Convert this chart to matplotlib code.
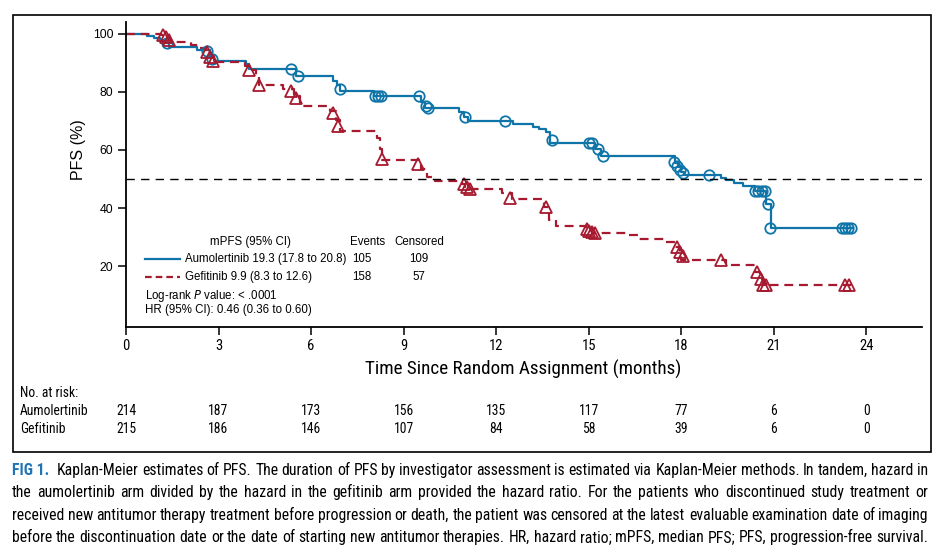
import matplotlib

matplotlib.use("Agg")
import matplotlib.pyplot as plt
import numpy as np
from matplotlib import font_manager
from matplotlib.lines import Line2D
from matplotlib.patches import Rectangle

# --- data -----------------------------------------------------------------------
# Kaplan-Meier step points (time of drop in months, PFS % after the drop)
aum_t = [0, 0.67, 0.9, 1.1, 1.25, 1.4, 2.3, 2.72, 2.85, 3.9, 4.0, 5.5, 6.7, 6.85,
         6.95, 8.05, 9.55, 9.7, 10.8, 10.95, 11.1, 12.55, 13.2, 13.4, 13.6, 13.75,
         15.2, 15.4, 17.8, 17.9, 18.0, 18.1, 19.3, 19.45, 19.7, 20.0, 20.4, 20.75, 20.9]
aum_s = [100, 99.3, 98.6, 97.8, 96.8, 95.4, 94.3, 92.0, 90.8, 89.5, 87.9, 85.4, 83.6,
         82.5, 80.2, 78.7, 76.5, 74.5, 73.2, 71.4, 70.0, 68.8, 67.9, 67.2, 66.3, 62.5,
         60.5, 58.0, 55.5, 54.0, 52.5, 51.4, 50.5, 49.5, 48.6, 47.7, 46.0, 41.4, 33.1]
aum_end = 23.55
aum_cens_t = [1.32, 2.62, 2.8, 5.36, 5.58, 6.92, 8.06, 8.17, 8.27, 9.51, 9.72, 9.78,
              11.0, 12.3, 13.8, 15.0, 15.1, 15.3, 15.45, 17.75, 17.85, 17.95, 18.05,
              18.9, 20.4, 20.5, 20.6, 20.7, 20.8, 20.88, 23.2, 23.3, 23.4, 23.5]
aum_cens_s = [96.8, 94.0, 91.2, 87.9, 85.4, 81.0, 78.7, 78.7, 78.7, 78.5, 75.0, 74.6,
              71.4, 70.0, 63.5, 62.5, 62.5, 60.5, 58.0, 56.0, 54.5, 53.0, 52.0, 51.4,
              46.0, 46.0, 46.0, 46.0, 41.4, 33.1, 33.1, 33.1, 33.1, 33.1]

gef_t = [0, 1.15, 1.3, 1.42, 2.1, 2.4, 2.6, 2.75, 2.85, 3.85, 4.0, 4.2, 4.3, 5.1,
         5.45, 5.65, 6.6, 6.8, 6.95, 8.15, 8.22, 8.3, 9.5, 9.55, 9.75, 10.0, 10.9,
         11.0, 11.15, 12.2, 12.5, 13.55, 13.7, 13.95, 14.9, 15.1, 16.3, 16.6, 17.5,
         17.8, 17.95, 18.0, 19.45, 20.4, 20.55, 20.65]
gef_s = [100, 99.5, 98.5, 97.2, 96.2, 95.2, 94.0, 92.5, 90.4, 89.0, 87.4, 85.0, 82.3,
         81.0, 78.5, 75.3, 73.5, 70.5, 66.7, 64.2, 60.5, 56.5, 55.0, 53.3, 50.7, 49.3,
         48.2, 47.3, 46.7, 45.3, 43.1, 40.5, 36.0, 33.7, 32.8, 31.4, 30.7, 29.3, 28.4,
         26.5, 24.5, 22.2, 20.2, 17.9, 15.6, 13.5]
gef_end = 23.5
gef_cens_t = [1.2, 1.3, 1.4, 2.62, 2.72, 2.82, 4.0, 4.3, 5.36, 5.52, 6.7, 6.87, 8.3,
              9.45, 10.95, 11.05, 11.15, 12.45, 13.62, 14.95, 15.02, 15.1, 15.2, 17.85,
              17.95, 18.05, 19.28, 20.46, 20.57, 20.65, 20.75, 23.3, 23.45]
gef_cens_s = [99.7, 99.0, 97.8, 93.8, 92.2, 90.6, 87.6, 82.5, 80.2, 78.0, 72.8, 68.2,
              56.8, 55.1, 48.2, 47.2, 46.7, 43.6, 40.4, 32.8, 32.0, 31.6, 31.4, 26.5,
              24.8, 23.4, 22.0, 17.9, 15.6, 13.5, 13.5, 13.5, 13.5]

x_ticks = [0, 3, 6, 9, 12, 15, 18, 21, 24]
y_ticks = [20, 40, 60, 80, 100]
risk_aum = [214, 187, 173, 156, 135, 117, 77, 6, 0]
risk_gef = [215, 186, 146, 107, 84, 58, 39, 6, 0]

legend_rows = [
    ("Aumolertinib 19.3 (17.8 to 20.8)", "105", "109"),
    ("Gefitinib 9.9 (8.3 to 12.6)", "158", "57"),
]
caption_lines = [
    "Kaplan-Meier estimates of PFS. The duration of PFS by investigator assessment is "
    "estimated via Kaplan-Meier methods. In tandem, hazard in",
    "the aumolertinib arm divided by the hazard in the gefitinib arm provided the hazard "
    "ratio. For the patients who discontinued study treatment or",
    "received new antitumor therapy treatment before progression or death, the patient was "
    "censored at the latest evaluable examination date of imaging",
    "before the discontinuation date or the date of starting new antitumor therapies. HR, "
    "hazard ratio; mPFS, median PFS; PFS, progression-free survival.",
]

BLUE = "#0f75a8"
RED = "#a6192e"
CAP_BLUE = "#1f73b7"

W, H = 943, 554
installed = {f.name for f in font_manager.fontManager.ttflist}
SANS = "Liberation Sans" if "Liberation Sans" in installed else "DejaVu Sans"
NARROW = SANS
for cand in ("Liberation Sans Narrow", "Arial Narrow", "Roboto Condensed",
             "Archivo Narrow", "PT Sans Narrow", "Pragati Narrow", "Open Sans Condensed",
             "IBM Plex Sans Condensed", "Fira Sans Condensed", "Encode Sans Condensed"):
    if cand in installed:
        NARROW = cand
        break
NARROW_FAM = [NARROW, SANS, "DejaVu Sans"]
plt.rcParams["font.family"] = [SANS, "DejaVu Sans"]


def fx(x):
    return x / W


def fy(y):
    return 1 - y / H


fig = plt.figure(figsize=(W / 100, H / 100), dpi=100)
ax = fig.add_axes([fx(126), fy(327), fx(922) - fx(126), fy(22) - fy(327)])

ax.step(np.append(aum_t, aum_end), np.append(aum_s, aum_s[-1]), where="post",
        color=BLUE, lw=1.6)
ax.step(np.append(gef_t, gef_end), np.append(gef_s, gef_s[-1]), where="post",
        color=RED, lw=1.6, dashes=(4, 2.6))
ax.plot(aum_cens_t, aum_cens_s, ls="none", marker="o", ms=7.5, mfc="none",
        mec=BLUE, mew=1.3)
ax.plot(gef_cens_t, gef_cens_s, ls="none", marker="^", ms=8, mfc="none",
        mec=RED, mew=1.3)
ax.axhline(50, color="black", lw=1.0, dashes=(6, 4.5))

ax.set_xlim(0, 25.8)
ax.set_ylim(-1, 104.1)
ax.set_xticks(x_ticks)
ax.set_yticks(y_ticks)
ax.set_xticklabels([str(v) for v in x_ticks], family=NARROW_FAM, fontsize=10.5)
ax.set_yticklabels([str(v) for v in y_ticks], fontsize=8.8)
ax.tick_params(axis="both", direction="out", length=6, width=1.1, color="black")
ax.tick_params(axis="x", pad=3)
ax.tick_params(axis="y", pad=3)
for side in ("top", "right"):
    ax.spines[side].set_visible(False)
for side in ("left", "bottom"):
    ax.spines[side].set_linewidth(1.3)

fig.text(fx(78), fy(150), "PFS (%)", rotation=90, ha="center", va="center",
         fontsize=11.5)
fig.text(fx(523), fy(369), "Time Since Random Assignment (months)", ha="center",
         va="center", family=NARROW_FAM, fontsize=13.8)

# in-plot legend block
fs = 8.3
fig.text(fx(250), fy(242), "mPFS (95% CI)", ha="center", va="center", fontsize=fs)
fig.text(fx(368), fy(242), "Events", ha="center", va="center", fontsize=fs)
fig.text(fx(419), fy(242), "Censored", ha="center", va="center", fontsize=fs)
row_y = [259, 277]
styles = [dict(color=BLUE, lw=1.6), dict(color=RED, lw=1.6, dashes=(3, 1.8))]
for (label, ev, cen), yy, st in zip(legend_rows, row_y, styles):
    fig.add_artist(Line2D([fx(145), fx(180)], [fy(yy), fy(yy)],
                          transform=fig.transFigure, **st))
    fig.text(fx(185), fy(yy), label, ha="left", va="center", fontsize=fs)
    fig.text(fx(362), fy(yy), ev, ha="center", va="center", fontsize=fs)
    fig.text(fx(419), fy(yy), cen, ha="center", va="center", fontsize=fs)
fig.text(fx(145), fy(296), r"Log-rank $\it{P}$ value: < .0001", ha="left",
         va="center", fontsize=fs)
fig.text(fx(145), fy(310), "HR (95% CI): 0.46 (0.36 to 0.60)", ha="left",
         va="center", fontsize=fs)

# number at risk table
rfs = 9.8
fig.text(fx(20), fy(393), "No. at risk:", ha="left", va="center", family=NARROW_FAM,
         fontsize=rfs)
for name, counts, yy in (("Aumolertinib", risk_aum, 411), ("Gefitinib", risk_gef, 429)):
    fig.text(fx(20), fy(yy), name, ha="left", va="center", family=NARROW_FAM,
             fontsize=rfs)
    for t, c in zip(x_ticks, counts):
        xpix = ax.transData.transform((t, 0))[0]
        fig.text(xpix / W, fy(yy), str(c), ha="center", va="center",
                 family=NARROW_FAM, fontsize=rfs)

# frame around the figure panel
fig.add_artist(Rectangle((fx(13), fy(452)), fx(931) - fx(13), fy(15) - fy(452),
                         fill=False, lw=1.2, ec="black", transform=fig.transFigure))

# justified caption below the panel
renderer = fig.canvas.get_renderer()
cap_base = [475, 497, 520, 542]
cfs = 11.3
for i, (line, yy) in enumerate(zip(caption_lines, cap_base)):
    arts = []
    if i == 0:
        arts.append(fig.text(0, fy(yy), "FIG 1.", fontweight="bold", color=CAP_BLUE,
                             family=NARROW_FAM, fontsize=cfs, va="baseline"))
    for w in line.split():
        arts.append(fig.text(0, fy(yy), w, family=NARROW_FAM, fontsize=cfs,
                             va="baseline"))
    widths = [a.get_window_extent(renderer).width for a in arts]
    extra = 4 if i == 0 else 0
    gap = (928 - 12 - extra - sum(widths)) / (len(arts) - 1)
    x = 12.0
    for j, (a, wd) in enumerate(zip(arts, widths)):
        a.set_x(fx(x))
        x += wd + gap + (extra if (i == 0 and j == 0) else 0)

fig.savefig("out.png", dpi=100)
